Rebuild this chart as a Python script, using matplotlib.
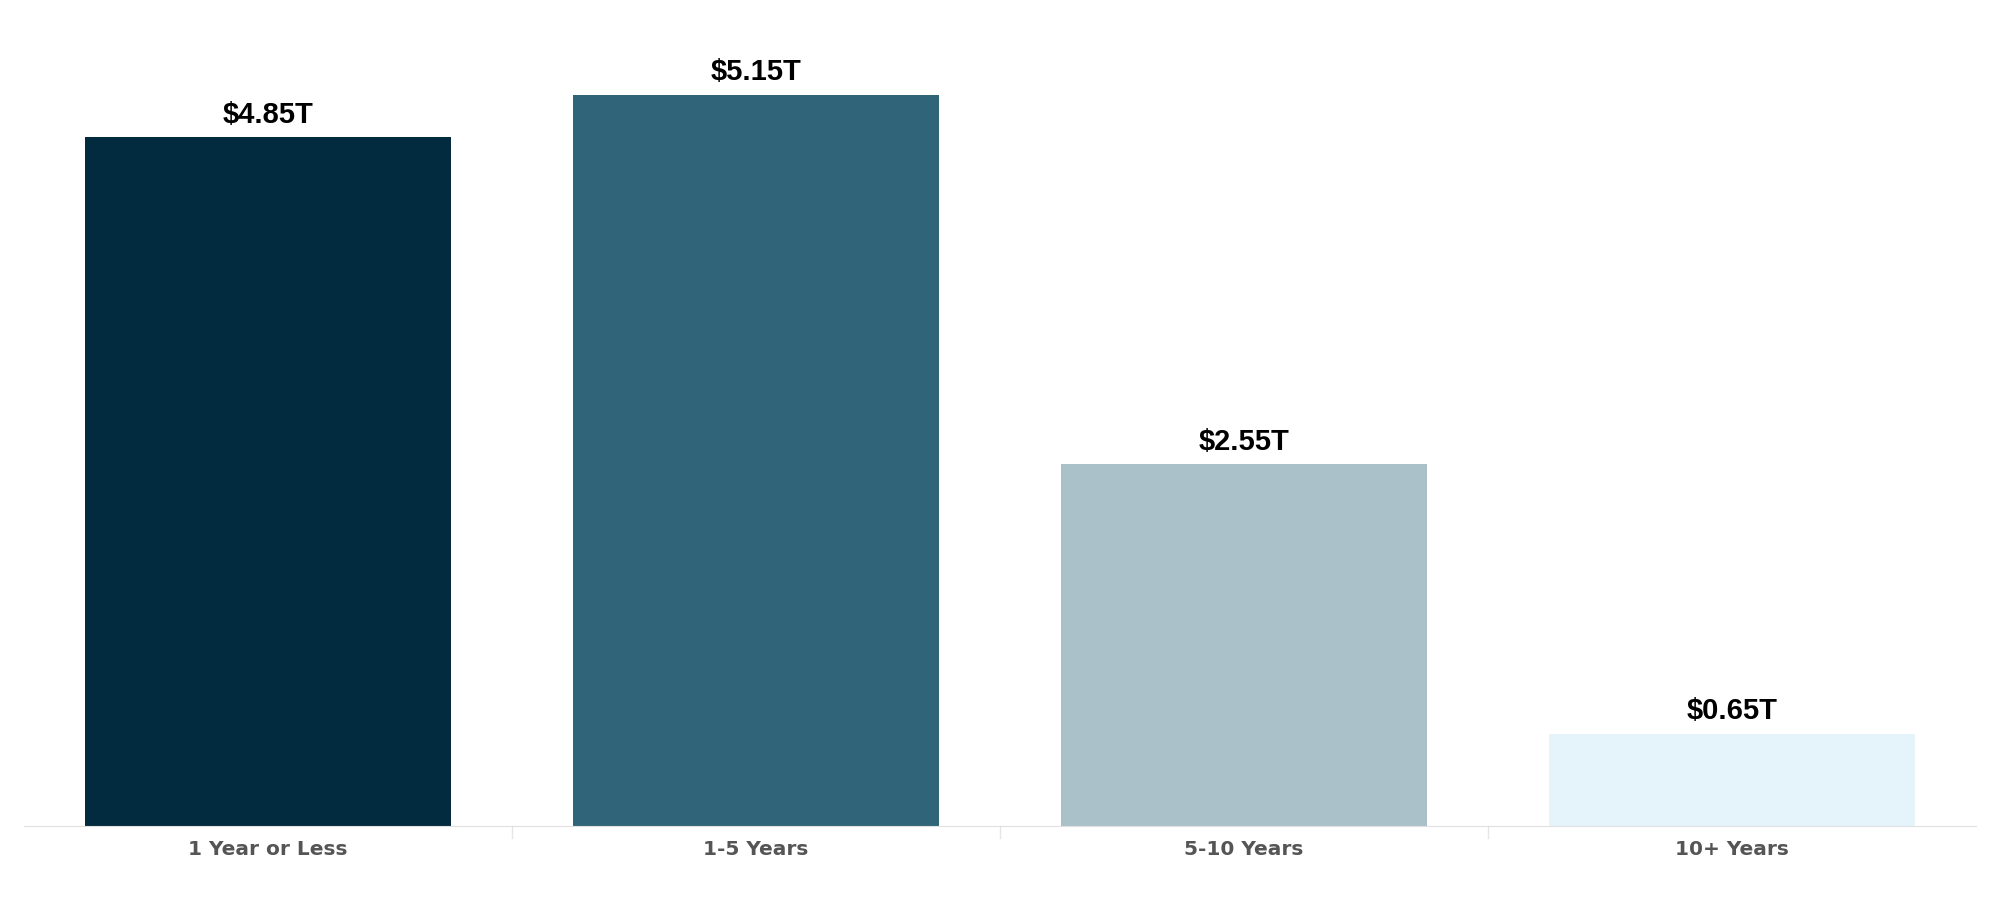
import matplotlib.pyplot as plt

categories = ["1 Year or Less", "1-5 Years", "5-10 Years", "10+ Years"]
values = [4.85, 5.15, 2.55, 0.65]
labels = ["$4.85T", "$5.15T", "$2.55T", "$0.65T"]
colors = ["#022b40", "#306478", "#abc1c9", "#e4f4fa"]

fig = plt.figure(figsize=(20, 9), dpi=100)
ax = fig.add_axes([0.012, 0.082, 0.976, 0.89])

x = range(len(categories))
ax.bar(x, values, width=0.75, color=colors)
for i, (v, lab) in enumerate(zip(values, labels)):
    ax.text(i, v + 0.06, lab, ha="center", va="bottom", fontsize=21,
            fontweight="bold", family="Liberation Sans", color="black")

ax.set_xlim(-0.5, len(categories) - 0.5)
ax.set_ylim(0, 5.64)
ax.set_yticks([])
ax.set_xticks(list(x))
ax.set_xticklabels(categories, fontsize=14.5, fontweight="bold", color="#555555",
                   family="DejaVu Sans")
ax.tick_params(axis="x", length=0, pad=10)
for b in [0.5, 1.5, 2.5]:
    ax.plot([b, b], [0, -0.08], color="#e6e6e6", lw=1, clip_on=False)
for s in ["top", "left", "right"]:
    ax.spines[s].set_visible(False)
ax.spines["bottom"].set_color("#e0e0e0")

fig.savefig("out.png", dpi=100, facecolor="white")
